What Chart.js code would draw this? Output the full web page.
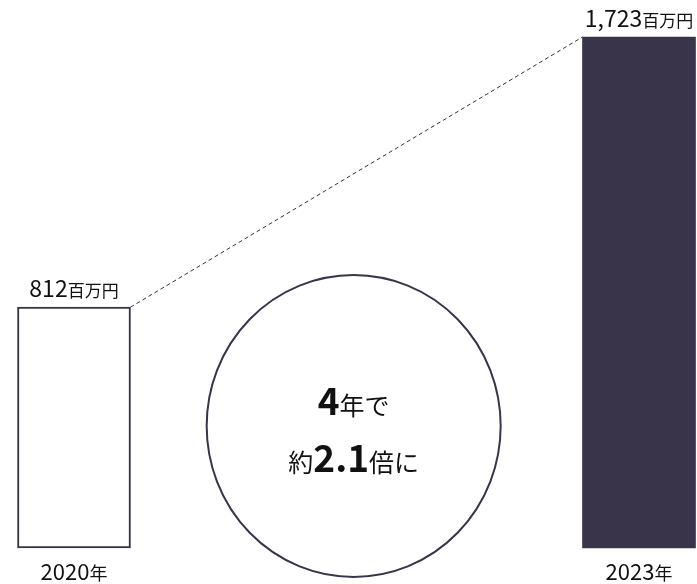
<!DOCTYPE html>
<html>
<head>
<meta charset="utf-8">
<script src="https://cdn.jsdelivr.net/npm/chart.js@4"></script>
<style>
  body { margin: 0; background: #fff; }
  #wrap { width: 697px; height: 584px; position: relative; }
</style>
</head>
<body>
<div id="wrap"><canvas id="chart"></canvas></div>
<script>
const years = ['2020年', '2023年'];
const values = [812, 1723];
const unit = '百万円';
const growthYears = '4';
const growthRatio = '2.1';

const dark = '#39344a';
const font = "'Noto Sans CJK JP', 'Noto Sans', sans-serif";

// draws a list of [text, size, weight] pieces centred on x
function drawRuns(ctx, runs, x, y) {
    let total = 0;
    runs.forEach(r => {
        ctx.font = `${r[2] || 'normal'} ${r[1]}px ${font}`;
        r.w = ctx.measureText(r[0]).width;
        total += r.w;
    });
    let cx = x - total / 2;
    runs.forEach(r => {
        ctx.font = `${r[2] || 'normal'} ${r[1]}px ${font}`;
        ctx.fillText(r[0], cx, y);
        cx += r.w;
    });
}

const overlay = {
    id: 'overlay',
    afterDatasetsDraw(chart) {
        const ctx = chart.ctx;
        const area = chart.chartArea;
        const bars = chart.getDatasetMeta(0).data;
        const b1 = bars[0], b2 = bars[1];

        ctx.save();
        // dashed connector
        ctx.strokeStyle = '#333';
        ctx.lineWidth = 1;
        ctx.setLineDash([4, 3]);
        ctx.beginPath();
        ctx.moveTo(b1.x + b1.width / 2, b1.y);
        ctx.lineTo(b2.x - b2.width / 2, b2.y);
        ctx.stroke();
        ctx.setLineDash([]);

        // circle
        const cx = area.left + area.width * 0.495;
        const cy = area.bottom - 122;
        ctx.strokeStyle = dark;
        ctx.lineWidth = 2;
        ctx.beginPath();
        ctx.ellipse(cx, cy, 147, 151, 0, 0, Math.PI * 2);
        ctx.stroke();

        ctx.fillStyle = '#111';
        ctx.textAlign = 'left';
        ctx.textBaseline = 'alphabetic';
        drawRuns(ctx, [[growthYears, 37, '600'], ['年で', 25]], cx, cy - 11);
        drawRuns(ctx, [['約', 25], [growthRatio, 37, '600'], ['倍に', 25]], cx, cy + 46);

        // value labels
        bars.forEach((b, i) => {
            drawRuns(ctx, [[values[i].toLocaleString('en-US'), 23], [unit, 17]], b.x, b.y - 10);
            drawRuns(ctx, [[years[i].replace('年', ''), 22], ['年', 18]], b.x, area.bottom + 32);
        });
        ctx.restore();
    }
};

new Chart(document.getElementById('chart'), {
    type: 'bar',
    data: {
        labels: years,
        datasets: [{
            data: values,
            backgroundColor: ['#ffffff', dark],
            borderColor: dark,
            borderWidth: [2, 0],
            borderSkipped: false,
            barThickness: 113,
            clip: false
        }]
    },
    options: {
        responsive: true,
        maintainAspectRatio: false,
        animation: false,
        layout: { padding: { left: 74, right: 58, top: 37, bottom: 36 } },
        plugins: { legend: { display: false }, tooltip: { enabled: false } },
        scales: {
            x: { display: false, offset: false },
            y: { display: false, min: 0, max: 1723 }
        }
    },
    plugins: [overlay]
});
</script>
</body>
</html>
